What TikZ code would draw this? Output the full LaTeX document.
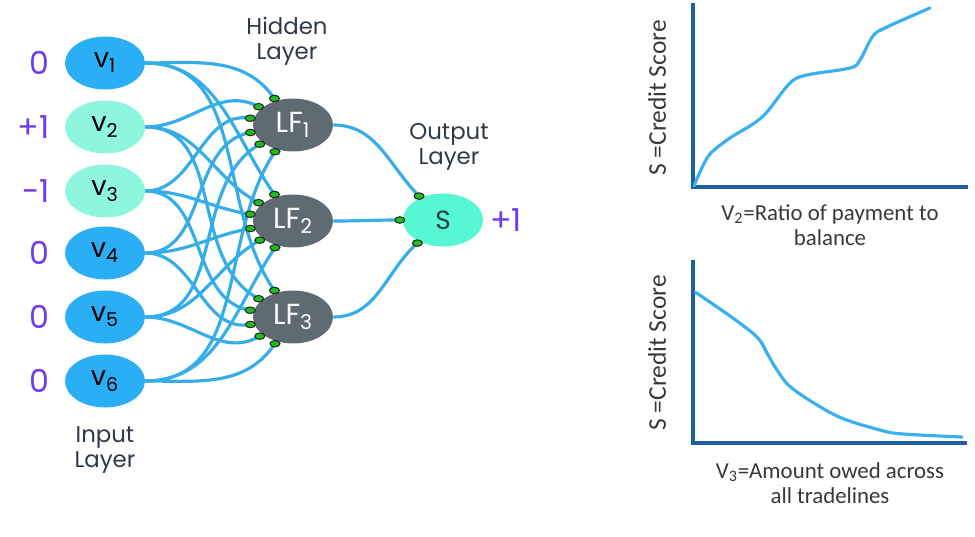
\documentclass[tikz,border=0pt]{standalone}
\usepackage{fontspec}
\setmainfont{Poppins}
\newfontfamily\plotfont{Carlito}
\usepackage{tikz}
\usetikzlibrary{shapes.geometric,calc}

\definecolor{inblue}{HTML}{2AAEF5}
\definecolor{inmint}{HTML}{8EF5DE}
\definecolor{lfgray}{HTML}{5F6B73}
\definecolor{outmint}{HTML}{55F8D2}
\definecolor{wireblue}{HTML}{35ADE8}
\definecolor{scorepurple}{HTML}{6E3CF0}
\definecolor{labelink}{HTML}{2E3B46}
\definecolor{axisblue}{HTML}{1E5FA0}
\definecolor{curveblue}{HTML}{3AB0F0}
\definecolor{synapsegreen}{HTML}{1EBE1E}

\tikzset{
	unit/.style={ellipse, minimum width=1.6cm, minimum height=1.06cm, inner sep=0pt},
	inunit/.style={unit, font=\fontsize{15.5}{15.5}\selectfont},
	hidunit/.style={unit, fill=lfgray, text=white, font=\fontsize{16.5}{16.5}\selectfont},
	outunit/.style={unit, fill=outmint, text=labelink, font=\fontsize{15}{15}\selectfont},
	score/.style={text=scorepurple, font=\fontsize{18}{18}\selectfont, inner sep=0pt},
	layerlabel/.style={text=labelink, align=center, font=\fontsize{13}{14.5}\selectfont},
	wire/.style={wireblue, line width=1.8pt},
	synapse/.style={ellipse, draw=black!85, line width=0.6pt, fill=synapsegreen, minimum width=0.2cm, minimum height=0.13cm, inner sep=0pt},
	axis/.style={axisblue, line width=1.9pt},
	trend/.style={curveblue, line width=1.8pt, line cap=round},
	axislabel/.style={text=black!78, align=center, font=\plotfont\fontsize{13}{14.5}\selectfont}
}

\begin{document}
\begin{tikzpicture}[x=0.02cm, y=0.02cm]
	\useasboundingbox (0,0) rectangle (975,-537);

	% input layer
	\foreach \i/\y/\c/\n in {1/63/inblue/0, 2/127/inmint/+1, 3/191/inmint/-1, 4/253/inblue/0, 5/317/inblue/0, 6/381/inblue/0} {
		\node[inunit, fill=\c] (v\i) at (105,-\y) {v\textsubscript{\i}};
		\node[score, anchor=east] (n\i) at (50,-\y) {\n};
	}
	\node[layerlabel] (inlabel) at (105,-450) {Input\\Layer};

	% hidden layer
	\foreach \j/\y in {1/125, 2/221, 3/317}
		\node[hidunit] (LF\j) at (293,-\y) {LF\textsubscript{\j}};
	\node[layerlabel] (hidlabel) at (287,-41) {Hidden\\Layer};

	% output layer
	\node[outunit] (S) at (443,-220) {S};
	\node[score, anchor=west] (nS) at (490,-220) {+1};
	\node[layerlabel] (outlabel) at (449,-147) {Output\\Layer};

	% dendrite points
	\foreach \j in {1,2,3}
		\foreach \a [count=\i] in {125,152,171,190,210,236}
			\coordinate (d\j\i) at ($(LF\j.center)!1.09!(LF\j.\a)$);
	\foreach \a [count=\k] in {135,180,222}
		\coordinate (s\k) at ($(S.center)!1.07!(S.\a)$);

	% wires
	\foreach \j in {1,2,3}
		\foreach \a [count=\i] in {125,152,171,190,210,236}
			\draw[wire] (v\i.east) to[out=0, in=\a] (d\j\i);
	\foreach \a [count=\j] in {135,180,222}
		\draw[wire] (LF\j.east) to[out=0, in=\a] (s\j);

	\foreach \j in {1,2,3}
		\foreach \i in {1,...,6}
			\node[synapse] (p\j\i) at (d\j\i) {};
	\foreach \k in {1,2,3}
		\node[synapse] (q\k) at (s\k) {};

	% upper plot
	\draw[axis] (693,-3) -- (693,-187) -- (968,-187);
	\draw[trend] plot[smooth, tension=0.55] coordinates {(694,-186) (700,-172) (710,-154) (730,-138) (753,-124) (767,-112) (790,-83) (807,-75) (850,-68) (860,-60) (873,-36) (887,-27) (930,-8)};
	\node[axislabel, rotate=90, font=\plotfont\fontsize{14.5}{14.5}\selectfont] (ytop) at (657,-98) {S =Credit Score};
	\node[axislabel] (xtop) at (830,-225) {V\textsubscript{2}=Ratio of payment to\\balance};

	% lower plot
	\draw[axis] (693,-260) -- (693,-443) -- (967,-443);
	\draw[trend] plot[smooth, tension=0.55] coordinates {(695,-292) (730,-316) (757,-337) (767,-353) (777,-370) (793,-389) (837,-416) (880,-430) (903,-434) (962,-437)};
	\node[axislabel, rotate=90, font=\plotfont\fontsize{14.5}{14.5}\selectfont] (ybot) at (657,-353) {S =Credit Score};
	\node[axislabel] (xbot) at (830,-483) {V\textsubscript{3}=Amount owed across\\all tradelines};
\end{tikzpicture}
\end{document}
